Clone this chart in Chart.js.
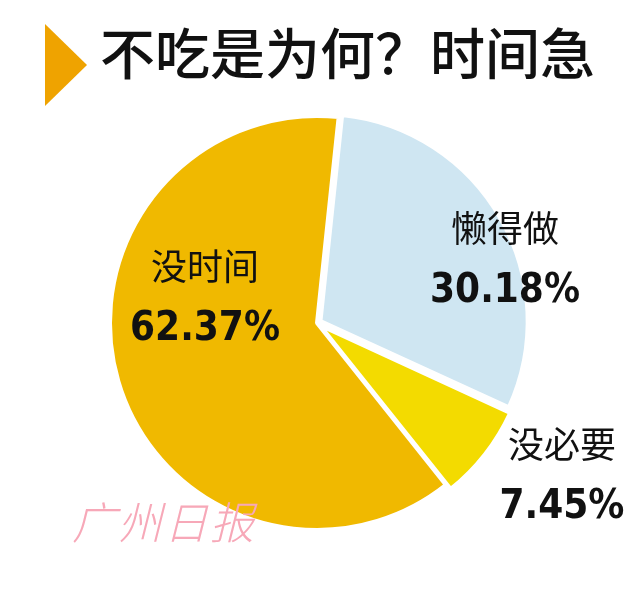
<!DOCTYPE html>
<html><head><meta charset="utf-8">
<script src="https://cdn.jsdelivr.net/npm/chart.js@4"></script>
<style>
body{margin:0;background:#fff;width:624px;height:594px;position:relative;overflow:hidden;font-family:"Noto Sans CJK SC",sans-serif}
#tri{position:absolute;left:45px;top:24px;width:0;height:0;border-top:41px solid transparent;border-bottom:41px solid transparent;border-left:42px solid #EFA300}
#title{position:absolute;left:100px;top:10px;font-size:55px;font-weight:500;color:#111;letter-spacing:0px}
#wm{position:absolute;left:72px;top:488px;font-size:44px;color:#F7A8B8;font-style:italic;letter-spacing:2px;font-family:"Noto Sans CJK SC";font-weight:300}
canvas{position:absolute;left:0;top:0}
</style></head><body>
<div id="tri"></div><div id="title">不吃是为何？时间急</div>
<canvas id="c" width="624" height="594"></canvas>
<div id="wm">广州日报</div>
<script>
const categories = ['懒得做', '没必要', '没时间'];
const values = [30.18, 7.45, 62.37];
const labelText = ['30.18%', '7.45%', '62.37%'];
const colors = ['#CFE6F2', '#F3DB00', '#F0B900'];
const labelPos = [[505, 262], [562, 478], [205, 300]];

const labelPlugin = {
  id: 'labels',
  afterDatasetsDraw(chart) {
    const ctx = chart.ctx;
    ctx.save();
    ctx.textAlign = 'center';
    ctx.fillStyle = '#111';
    categories.forEach((c, i) => {
      const [x, y] = labelPos[i];
      ctx.font = '36px "Noto Sans CJK SC"';
      ctx.fillText(c, x, y - 20);
      ctx.font = 'bold 40px "DejaVu Sans Condensed", "Liberation Sans Narrow", sans-serif';
      ctx.fillText(labelText[i], x, y + 40);
    });
    ctx.restore();
  }
};

new Chart(document.getElementById('c'), {
  type: 'pie',
  data: {
    labels: categories,
    datasets: [{
      data: values,
      backgroundColor: colors,
      borderColor: '#fff',
      borderWidth: 4,
      offset: [16, 16, 0]
    }]
  },
  options: {
    responsive: false,
    animation: false,
    rotation: 6,
    layout: { padding: { top: 104, bottom: 52, left: 100, right: 90 } },
    plugins: { legend: { display: false }, tooltip: { enabled: false } }
  },
  plugins: [labelPlugin]
});
</script>
</body></html>
